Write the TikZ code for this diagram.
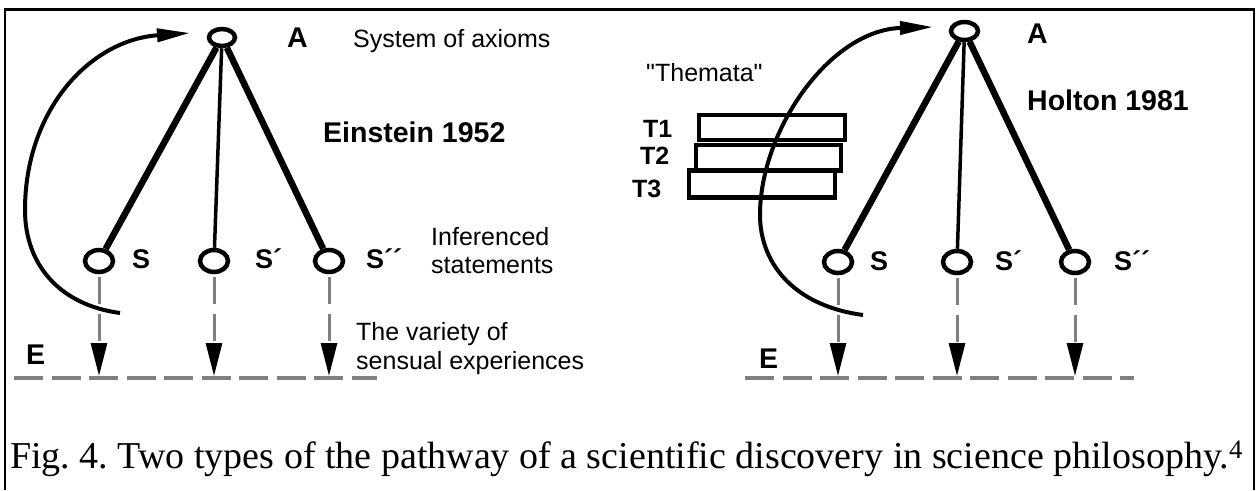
\documentclass[tikz,border=0pt]{standalone}
\usepackage{fontspec}
\setmainfont{Liberation Serif}
\setsansfont{Liberation Sans}
\usetikzlibrary{arrows.meta,shapes.geometric}
\definecolor{dgrey}{gray}{0.5}
\frenchspacing
\begin{document}
\begin{tikzpicture}[x=1pt,y=-1pt,
  reg/.style={font=\sffamily\fontsize{25}{28}\selectfont, inner sep=0pt, anchor=base west},
  bld/.style={font=\sffamily\bfseries\fontsize{28.5}{32}\selectfont, inner sep=0pt, anchor=base west},
  lab/.style={font=\sffamily\bfseries\fontsize{27}{30}\selectfont, inner sep=0pt, anchor=base west},
  tlab/.style={font=\sffamily\bfseries\fontsize{25}{28}\selectfont, inner sep=0pt, anchor=base west},
  topnode/.style={ellipse, draw, line width=4.5pt, minimum width=26pt, minimum height=17pt, inner sep=0pt},
  stmt/.style={ellipse, draw, line width=4.5pt, minimum width=28pt, minimum height=22pt, inner sep=0pt},
  thicklink/.style={line width=6.5pt},
  thinlink/.style={line width=3.5pt},
  down/.style={dgrey, line width=3pt, dash pattern=on 27pt off 10pt, shorten <=3pt,
    -{Triangle[length=33pt,width=16pt,color=black]}},
  eline/.style={dgrey, line width=4pt, dash pattern=on 29pt off 8.5pt},
  loopline/.style={line width=4pt, -{Triangle[length=33pt,width=13pt]}},
  box/.style={draw, line width=4.5pt, inner sep=0pt}
]
\useasboundingbox (0,0) rectangle (1258,490);
% frame
\draw[line width=2.5pt] (5,490) -- (5,9.5) -- (1254,9.5) -- (1254,490);

% ---------------- left: Einstein ----------------
\node[topnode] (A1) at (222,37.5) {};
\node[stmt] (S1) at (99,261) {};
\node[stmt] (S2) at (214,261) {};
\node[stmt] (S3) at (329,261) {};
\draw[thicklink] (A1) -- (S1);
\draw[thinlink] (A1) -- (S2);
\draw[thicklink] (A1) -- (S3);

\node[bld] (A1l) at (287,47) {A};
\node[reg] (sys) at (353,47) {System of axioms};
\node[bld] (ein) at (323,142) {Einstein 1952};
\node[lab] (S1l) at (132,268) {S};
\node[lab] (S2l) at (255,268) {S´};
\node[lab] (S3l) at (366,268) {S´´};
\node[reg] (inf1) at (431,245) {Inferenced};
\node[reg] (inf2) at (431,273) {statements};
\node[reg] (var1) at (356,340) {The variety of};
\node[reg] (var2) at (356,369) {sensual experiences};
\node[bld] (E1) at (26,364) {E};

\coordinate (E1a) at (14,378);
\coordinate (E1b) at (377,378);
\draw[eline] (E1a) -- (E1b);
\coordinate (e11) at (99,376);
\coordinate (e12) at (214,376);
\coordinate (e13) at (329,376);
\draw[down] (S1.south) -- (e11);
\draw[down] (S2.south) -- (e12);
\draw[down] (S3.south) -- (e13);

\coordinate (c1s) at (120,313);
\coordinate (c1m) at (25,210);
\coordinate (c1e) at (190,33);
\draw[loopline] (c1s) .. controls (60,305) and (25,265) .. (c1m)
  .. controls (25,110) and (90,40) .. (c1e);

% ---------------- right: Holton ----------------
\node[box, minimum width=146pt, minimum height=25pt] (T1) at (772,127.5) {};
\node[box, minimum width=145pt, minimum height=25.5pt] (T2) at (768.5,157.75) {};
\node[box, minimum width=146pt, minimum height=27pt] (T3) at (762,184) {};
\node[tlab] (T1l) at (643,137) {T1};
\node[tlab] (T2l) at (640,164) {T2};
\node[tlab] (T3l) at (632,197) {T3};
\node[reg] (them) at (646,81) {\textquotedbl Themata\textquotedbl};

\node[topnode, minimum width=27pt, minimum height=18pt] (A2) at (964.5,31) {};
\node[stmt] (R1) at (838,262) {};
\node[stmt] (R2) at (957,262) {};
\node[stmt] (R3) at (1075,262) {};
\draw[thicklink] (A2) -- (R1);
\draw[thinlink] (A2) -- (R2);
\draw[thicklink] (A2) -- (R3);

\node[bld] (A2l) at (1027,43) {A};
\node[bld] (hol) at (1027,110) {Holton 1981};
\node[lab] (R1l) at (870,270) {S};
\node[lab] (R2l) at (995,270) {S´};
\node[lab] (R3l) at (1114,270) {S´´};
\node[bld] (E2) at (759,368) {E};

\coordinate (E2a) at (745,378);
\coordinate (E2b) at (1134,378);
\draw[eline] (E2a) -- (E2b);
\coordinate (e21) at (838,376);
\coordinate (e22) at (957,376);
\coordinate (e23) at (1075,376);
\draw[down] (R1.south) -- (e21);
\draw[down] (R2.south) -- (e22);
\draw[down] (R3.south) -- (e23);

\coordinate (c2s) at (863,315);
\coordinate (c2m) at (760,215);
\coordinate (c2e) at (933,27);
\draw[loopline] (c2s) .. controls (790,305) and (760,260) .. (c2m)
  .. controls (760,130) and (830,30) .. (c2e);

% caption
\node[font=\fontsize{38}{42}\selectfont, anchor=base west, inner sep=0pt] (cap) at (10,468)
  {Fig. 4. Two types of the pathway of a scientific discovery in science philosophy.\textsuperscript{4}};
\end{tikzpicture}
\end{document}
